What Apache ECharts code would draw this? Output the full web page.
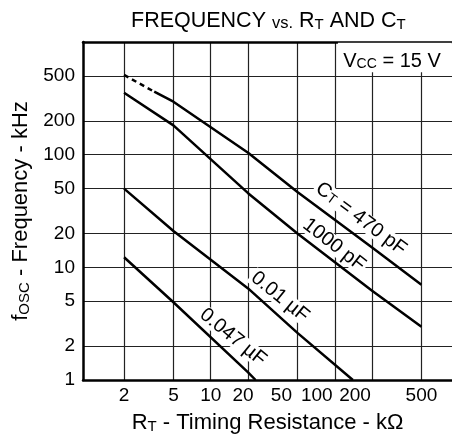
<!DOCTYPE html>
<html>
<head>
<meta charset="utf-8">
<script src="https://cdn.jsdelivr.net/npm/echarts@6/dist/echarts.min.js"></script>
<style>
  html, body { margin: 0; padding: 0; background: #fff; }
  #chart { width: 452px; height: 441px; }
</style>
</head>
<body>
<div id="chart"></div>
<script>
// tick values of the two log axes
const xTicks = [2, 5, 10, 20, 50, 100, 200, 500];
const yTicks = [1, 2, 5, 10, 20, 50, 100, 200, 500];

// CT = 470 pF (dashed part at the high frequency end)
const rt470dash = [2, 3.5];
const f470dash = [510, 362];
const rt470 = [3.5, 5, 20, 50, 200, 500];
const f470 = [362, 295, 104, 46.6, 15, 7.0];

// CT = 1000 pF
const rt1000 = [2, 5, 20, 50, 200, 500];
const f1000 = [355, 182, 45.5, 20, 6.2, 2.97];

// CT = 0.01 uF
const rt10n = [2, 5, 20, 50, 140];
const f10n = [50, 21, 6.5, 2.62, 1];

// CT = 0.047 uF
const rt47n = [2, 5, 20, 23];
const f47n = [12.3, 4.9, 1.17, 1];

const FONT = '"Liberation Sans", Arial, Helvetica, sans-serif';
const zip = (xs, ys) => xs.map((x, i) => [x, ys[i]]);

// the printed sheet squeezes some x labels to the left
const labelShift = { 20: 5, 50: 16, 100: 18, 200: 17 };
const xRich = { n: { fontSize: 19, fontFamily: FONT, color: '#000' } };
Object.keys(labelShift).forEach(k => {
  xRich['s' + k] = { fontSize: 19, fontFamily: FONT, color: '#000', padding: [0, labelShift[k] * 2, 0, 0] };
});

const small = (size) => ({ fontSize: size, fontFamily: FONT, color: '#000', verticalAlign: 'bottom' });

const curveLabel = {
  show: true,
  position: 'inside',
  fontSize: 20,
  fontFamily: FONT,
  color: '#000',
  backgroundColor: '#fff',
  padding: [0, 2],
  lineHeight: 18,
  rich: { t: small(14) }
};

function line(name, data, dashed, extra) {
  return Object.assign({
    name: name,
    type: 'line',
    data: data,
    symbol: 'none',
    silent: true,
    animation: false,
    lineStyle: { color: '#000', width: 2.5, type: dashed ? [5, 4] : 'solid', join: 'round' },
    z: 3
  }, extra || {});
}

function tag(coord, text, rotate) {
  return {
    symbol: 'circle',
    symbolSize: 1,
    itemStyle: { color: 'rgba(0,0,0,0)' },
    silent: true,
    animation: false,
    z: 5,
    data: [{ coord: coord, label: Object.assign({}, curveLabel, { formatter: text, rotate: rotate }) }]
  };
}

const frame = { show: true, lineStyle: { color: '#000', width: 2.5 } };

let chart = echarts.init(document.getElementById('chart'), null, { renderer: 'canvas' });
let option = {
  animation: false,
  backgroundColor: '#fff',
  title: {
    text: 'FREQUENCY {s|vs.} R{t|T} AND C{t|T}',
    left: 126,
    top: 5,
    textStyle: {
      fontSize: 21.5,
      fontWeight: 'normal',
      fontFamily: FONT,
      color: '#000',
      rich: { s: small(16.5), t: small(15) }
    }
  },
  grid: {
    left: 83,
    top: 42,
    right: 0,
    height: 338
  },
  xAxis: [{
    type: 'log',
    min: 0.933,
    max: 882,
    name: 'R{t|T} - Timing Resistance - kΩ',
    nameLocation: 'middle',
    nameGap: 32,
    nameTextStyle: { fontSize: 22, fontFamily: FONT, color: '#000', rich: { t: small(15) } },
    axisLine: frame,
    axisTick: { show: false, customValues: xTicks },
    axisLabel: {
      customValues: xTicks,
      margin: 6,
      formatter: v => {
        const r = Math.round(v);
        return labelShift[r] ? '{s' + r + '|' + r + '}' : '{n|' + r + '}';
      },
      rich: xRich
    },
    splitLine: { show: true, lineStyle: { color: '#222', width: 1.2 } }
  }, {
    // top edge of the frame
    type: 'value',
    position: 'top',
    axisLine: frame,
    axisTick: { show: false },
    axisLabel: { show: false },
    splitLine: { show: false }
  }],
  yAxis: {
    type: 'log',
    min: 1,
    max: 1000,
    name: 'f{t|OSC} - Frequency - kHz',
    nameLocation: 'middle',
    nameRotate: 90,
    nameGap: 51,
    nameTextStyle: { fontSize: 22, fontFamily: FONT, color: '#000', rich: { t: small(15) } },
    axisLine: frame,
    axisTick: { show: false, customValues: yTicks },
    axisLabel: {
      customValues: yTicks,
      margin: 8,
      fontSize: 19,
      fontFamily: FONT,
      color: '#000',
      formatter: v => String(Math.round(v))
    },
    splitLine: { show: true, lineStyle: { color: '#222', width: 1.2 } }
  },
  series: [
    line('470pF-dash', zip(rt470dash, f470dash), true, {
      // white box behind the supply voltage note
      markArea: {
        silent: true,
        animation: false,
        itemStyle: { color: '#fff' },
        data: [[{ xAxis: 106, yAxis: 540 }, { xAxis: 880, yAxis: 985 }]]
      }
    }),
    line('470pF', zip(rt470, f470), false, {
      markPoint: tag([162.8, 26.9], 'C{t|T} = 470 pF', -37)
    }),
    line('1000pF', zip(rt1000, f1000), false, {
      markPoint: tag([98.6, 15.8], '1000 pF', -38)
    }),
    line('0.01uF', zip(rt10n, f10n), false, {
      markPoint: tag([36.2, 5.45], '0.01 µF', -39)
    }),
    line('0.047uF', zip(rt47n, f47n), false, {
      markPoint: tag([15.1, 2.4], '0.047 µF', -39)
    }),
    line('vcc', [], false, {
      markPoint: {
        symbol: 'circle',
        symbolSize: 1,
        itemStyle: { color: 'rgba(0,0,0,0)' },
        silent: true,
        animation: false,
        data: [{
          coord: [289.6, 672],
          label: {
            show: true,
            position: 'inside',
            formatter: 'V{t|CC} = 15 V',
            fontSize: 20,
            fontFamily: FONT,
            color: '#000',
            rich: { t: small(14) }
          }
        }]
      }
    })
  ]
};
chart.setOption(option);
</script>
</body>
</html>
